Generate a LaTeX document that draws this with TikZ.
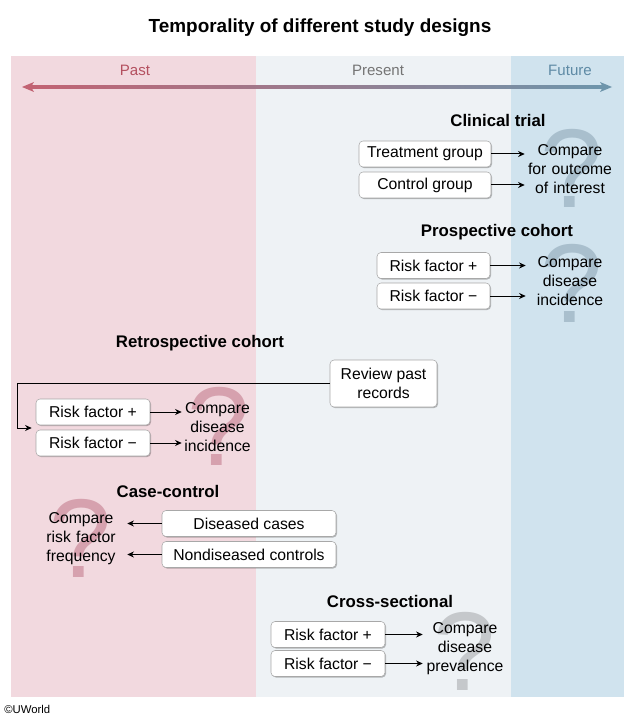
\documentclass[tikz,border=0pt]{standalone}
\usepackage{fontspec}
\setmainfont{Liberation Sans}
\usetikzlibrary{arrows.meta,shadows}

\definecolor{pastbg}{HTML}{F2D9DF}
\definecolor{presbg}{HTML}{EEF2F5}
\definecolor{futbg}{HTML}{D0E3EE}
\definecolor{pasttext}{HTML}{B4505F}
\definecolor{prestext}{HTML}{747474}
\definecolor{futtext}{HTML}{5E8AA5}
\definecolor{pastarrow}{HTML}{C26373}
\definecolor{midarrow}{HTML}{959A9F}
\definecolor{futarrow}{HTML}{6E95AB}
\definecolor{qblue}{HTML}{A9BFCD}
\definecolor{qgrey}{HTML}{C5C8CB}
\definecolor{qpink}{HTML}{D6A1AE}
\definecolor{boxline}{HTML}{A8A8A8}

\begin{document}
\begin{tikzpicture}[x=0.75pt,y=-0.75pt,
	box/.style={draw=boxline,fill=white,rounded corners=3pt,inner sep=0pt,minimum height=19.5pt,font=\fontsize{11.8}{14}\selectfont,drop shadow={shadow xshift=0.8pt,shadow yshift=-0.8pt,fill=black,opacity=0.25}},
	cmp/.style={align=center,inner sep=0pt,font=\fontsize{11.8}{14.3}\selectfont},
	head/.style={font=\bfseries\fontsize{12.6}{15}\selectfont},
	era/.style={font=\fontsize{11.3}{13}\selectfont},
	qm/.style={anchor=base,inner sep=0pt,font=\fontsize{84}{84}\selectfont},
	arr/.style={line width=0.75pt,-{Stealth[length=5pt,width=4.5pt]}}]
	
	\useasboundingbox (0,0) rectangle (640,720);
	\fill[pastbg] (11,56) rectangle (256,697);
	\fill[presbg] (256,56) rectangle (511,697);
	\fill[futbg] (511,56) rectangle (624,697);
	
	\node[font=\bfseries\fontsize{14.2}{17}\selectfont] (title) at (320,28) {Temporality of different study designs};
	\node[era,text=pasttext] (past) at (135,70) {Past};
	\node[era,text=prestext] (present) at (378,70) {Present};
	\node[era,text=futtext] (future) at (570,70) {Future};
	
	\shade[left color=pastarrow,middle color=midarrow,right color=futarrow] (31,85.6) rectangle (603,88.4);
	\fill[pastarrow] (22,87) -- (34,82) -- (31,87) -- (34,92) -- cycle;
	\fill[futarrow] (612,87) -- (600,82) -- (603,87) -- (600,92) -- cycle;
	
	\node[qm,text=qblue] (q1) at (572,208) {?};
	\node[qm,text=qblue] (q2) at (572,322) {?};
	\node[qm,text=qpink] (q3) at (219,465) {?};
	\node[qm,text=qpink] (q4) at (81,577) {?};
	\node[qm,text=qgrey] (q5) at (465,690) {?};
	
	\node[head] (ct) at (498,120) {Clinical trial};
	\node[box,minimum width=99pt] (tg) at (425,154) {Treatment group};
	\node[box,minimum width=99pt] (cg) at (425,185) {Control group};
	\node[cmp,text width=67.5pt] (ctc) at (570,169) {Compare\\for outcome\\of interest};
	\draw[arr] (tg.east) -- (tg.east -| ctc.west);
	\draw[arr] (cg.east) -- (cg.east -| ctc.west);
	
	\node[head] (pc) at (497,232) {Prospective cohort};
	\node[box,minimum width=84.75pt] (prp) at (433.5,265.5) {Risk factor +};
	\node[box,minimum width=84.75pt] (prm) at (433.5,296) {Risk factor −};
	\node[cmp,text width=66pt] (pcc) at (570,281) {Compare\\disease\\incidence};
	\draw[arr] (prp.east) -- (prp.east -| pcc.west);
	\draw[arr] (prm.east) -- (prm.east -| pcc.west);
	
	\node[head] (rc) at (200,343) {Retrospective cohort};
	\node[box,minimum width=80.25pt,minimum height=35.25pt,align=center] (rev) at (383.5,383.5) {Review past\\records};
	\node[box,minimum width=85.5pt] (rrp) at (93,412) {Risk factor +};
	\node[box,minimum width=85.5pt] (rrm) at (93,443) {Risk factor −};
	\node[cmp,text width=53.25pt] (rcc) at (217.5,427) {Compare\\disease\\incidence};
	\coordinate (rbend) at (17,428);
	\draw[arr] (rev.west) -| (rbend) -- ([xshift=-3pt]rbend -| rrp.west);
	\draw[arr] (rrp.east) -- (rrp.east -| rcc.west);
	\draw[arr] (rrm.east) -- (rrm.east -| rcc.west);
	
	\node[head] (cc) at (168,491) {Case-control};
	\node[box,minimum width=130.5pt] (dc) at (249,523.5) {Diseased cases};
	\node[box,minimum width=130.5pt] (nc) at (249,554.5) {Nondiseased controls};
	\node[cmp,text width=69pt] (ccc) at (81,538.5) {Compare\\risk factor\\frequency};
	\draw[arr] (dc.west) -- (dc.west -| ccc.east);
	\draw[arr] (nc.west) -- (nc.west -| ccc.east);
	
	\node[head] (cs) at (390,601) {Cross-sectional};
	\node[box,minimum width=85.5pt] (crp) at (328,634.5) {Risk factor +};
	\node[box,minimum width=85.5pt] (crm) at (328,663.5) {Risk factor −};
	\node[cmp,text width=63pt] (csc) at (465,649) {Compare\\disease\\prevalence};
	\draw[arr] (crp.east) -- (crp.east -| csc.west);
	\draw[arr] (crm.east) -- (crm.east -| csc.west);
	
	\node[anchor=west,inner sep=0pt,font=\fontsize{8.5}{10}\selectfont] (uw) at (4,709) {©UWorld};
	
\end{tikzpicture}
\end{document}
